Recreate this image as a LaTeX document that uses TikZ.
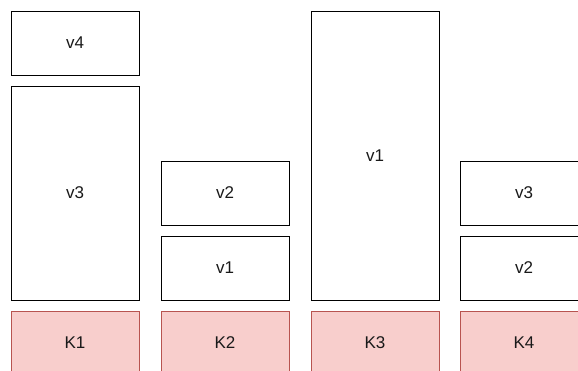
\documentclass[tikz,border=0pt]{standalone}
\usepackage{fontspec}
\setmainfont{Liberation Sans}
\definecolor{kfill}{HTML}{F8CECC}
\definecolor{kdraw}{HTML}{B85450}
\begin{document}
\begin{tikzpicture}[x=1pt,y=-1pt,
  vbox/.style={draw=black,fill=white,line width=1pt},
  kbox/.style={draw=kdraw,fill=kfill,line width=1pt},
  lbl/.style={font=\fontsize{17}{20}\selectfont,text=black!90}]
\useasboundingbox (0,0) rectangle (578,370);
\clip (0,0) rectangle (578,370);
% column 1
\draw[vbox] (11,11) rectangle (139,75); \node[lbl] (c1v4) at (75,43) {v4};
\draw[vbox] (11,86) rectangle (139,300); \node[lbl] (c1v3) at (75,193) {v3};
\draw[kbox] (11,311) rectangle (139,375); \node[lbl] (k1) at (75,343) {K1};
% column 2
\draw[vbox] (161,161) rectangle (289,225); \node[lbl] (c2v2) at (225,193) {v2};
\draw[vbox] (161,236) rectangle (289,300); \node[lbl] (c2v1) at (225,268) {v1};
\draw[kbox] (161,311) rectangle (289,375); \node[lbl] (k2) at (225,343) {K2};
% column 3
\draw[vbox] (311,11) rectangle (439,300); \node[lbl] (c3v1) at (375,156) {v1};
\draw[kbox] (311,311) rectangle (439,375); \node[lbl] (k3) at (375,343) {K3};
% column 4
\draw[vbox] (460,161) rectangle (588,225); \node[lbl] (c4v3) at (524,193) {v3};
\draw[vbox] (460,236) rectangle (588,300); \node[lbl] (c4v2) at (524,268) {v2};
\draw[kbox] (460,311) rectangle (588,375); \node[lbl] (k4) at (524,343) {K4};
\end{tikzpicture}
\end{document}
